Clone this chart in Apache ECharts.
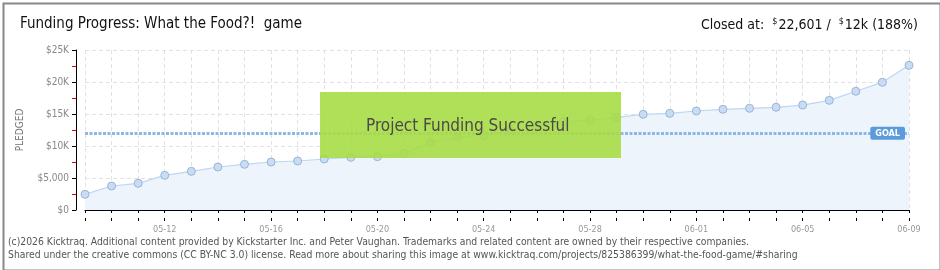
<!DOCTYPE html>
<html>
<head>
<meta charset="utf-8">
<script src="https://cdn.jsdelivr.net/npm/echarts@6/dist/echarts.min.js"></script>
<style>
html,body{margin:0;padding:0;background:#fff;}
#c{width:940px;height:270px;}
</style>
</head>
<body>
<div id="c"></div>
<script>
// ---- data ----
var dates = ['05-09','05-10','05-11','05-12','05-13','05-14','05-15','05-16','05-17','05-18','05-19','05-20','05-21','05-22','05-23','05-24','05-25','05-26','05-27','05-28','05-29','05-30','05-31','06-01','06-02','06-03','06-04','06-05','06-06','06-07','06-08','06-09'];
var pledged = [2450,3750,4170,5420,6040,6720,7140,7500,7660,7970,8230,8330,8850,10600,11400,11700,12500,13200,13800,14060,14480,14950,15100,15470,15730,15890,16050,16400,17130,18550,19950,22601];
var goal = 12000;
var yTickValues = [0,5000,10000,15000,20000,25000];
var yTickLabels = ['$0','$5,000','$10K','$15K','$20K','$25K'];
var titleText = 'Funding Progress: What the Food?!  game';
var closedTotal = '22,601';
var closedGoal = '12k';
var closedPct = '(188%)';
var bannerText = 'Project Funding Successful';
var footer1 = '(c)2026 Kicktraq. Additional content provided by Kickstarter Inc. and Peter Vaughan. Trademarks and related content are owned by their respective companies.';
var footer2 = 'Shared under the creative commons (CC BY-NC 3.0) license. Read more about sharing this image at www.kicktraq.com/projects/825386399/what-the-food-game/#sharing';

var FONT = 'DejaVu Sans Condensed';
var chart = echarts.init(document.getElementById('c'), null, {renderer:'canvas'});

var labelMap = {};
yTickValues.forEach(function(v,i){ labelMap[v] = yTickLabels[i]; });

var option = {
  animation: false,
  backgroundColor: '#fff',
  grid: {left: 85, right: 31, top: 50, bottom: 60},
  xAxis: [{
    type: 'category',
    data: dates,
    boundaryGap: false,
    offset: 11,
    axisLine: {lineStyle: {color: '#000', width: 1}},
    axisTick: {show: true, interval: 0, length: 3, lineStyle: {color: '#000'}},
    axisLabel: {
      interval: function(i){ return (i - 3) % 4 === 0; },
      color: '#999', fontSize: 9, fontFamily: FONT, margin: 4
    },
    splitLine: {show: true, interval: 0, lineStyle: {color: '#e2e2e2', type: [4,3]}}
  },{
    type: 'category',
    data: dates,
    boundaryGap: false,
    position: 'bottom',
    offset: 11,
    axisLine: {show: false},
    axisTick: {show: true, inside: true, interval: 0, length: 3, lineStyle: {color: '#000'}},
    axisLabel: {show: false},
    splitLine: {show: false}
  }],
  yAxis: {
    type: 'value',
    min: 0, max: 25000, interval: 5000,
    offset: 9,
    name: 'PLEDGED',
    nameLocation: 'middle',
    nameRotate: 90,
    nameGap: 51,
    nameTextStyle: {color: '#777', fontSize: 10, fontFamily: FONT},
    axisLine: {show: true, lineStyle: {color: '#000', width: 1}},
    axisTick: {show: true, length: 4, lineStyle: {color: '#000'}},
    minorTick: {show: true, splitNumber: 2, length: 4, lineStyle: {color: '#e00000'}},
    axisLabel: {
      color: '#888', fontSize: 10, fontFamily: FONT, margin: 7,
      formatter: function(v){ return labelMap[v] !== undefined ? labelMap[v] : ''; }
    },
    splitLine: {show: true, lineStyle: {color: '#e2e2e2', type: [4,3]}}
  },
  series: [{
    type: 'line',
    data: pledged,
    symbol: 'circle',
    symbolSize: 8,
    itemStyle: {color: '#c8ddf5', borderColor: '#9ab4d4', borderWidth: 1},
    lineStyle: {color: '#bcd7f3', width: 1.2},
    areaStyle: {color: '#eef4fc', opacity: 1},
    z: 3,
    markLine: {
      silent: true,
      symbol: ['none','none'],
      data: [{yAxis: goal}],
      lineStyle: {color: '#8cb8e6', width: 3, type: [3,1.5]},
      label: {
        show: true,
        position: 'insideEnd',
        formatter: 'GOAL',
        color: '#fff',
        fontFamily: FONT,
        fontSize: 9,
        fontWeight: 'bold',
        backgroundColor: '#5b9bdc',
        borderRadius: 2,
        padding: [2,5,2,5],
        distance: 4
      },
      z: 10
    }
  }],
  graphic: [
    {type: 'rect', left: 1, top: 1, z: 100, silent: true,
     shape: {width: 937, height: 267}, style: {fill: 'none', stroke: '#888', lineWidth: 2}},
    {type: 'text', left: 20, top: 17, style: {text: titleText, fill: '#111', font: '15px "' + FONT + '"'}},
    {type: 'text', right: 22, top: 17, style: {
      text: '{n|Closed at:  }{s|$}{n|' + closedTotal + ' /  }{s|$}{n|' + closedGoal + ' ' + closedPct + '}',
      rich: {
        n: {fontSize: 14, fontFamily: FONT, fill: '#111', verticalAlign: 'bottom'},
        s: {fontSize: 9, fontFamily: FONT, fill: '#111', verticalAlign: 'top', padding:[0,1,6,0]}
      }
    }},
    {type: 'rect', left: 320, top: 92, z: 50, shape: {width: 301, height: 66},
     style: {fill: 'rgba(167,220,70,0.9)'}},
    {type: 'text', left: 366, top: 118, z: 51, style: {
      text: bannerText, fill: '#4a4a4a', font: '17px "' + FONT + '"',
      textShadowColor: '#fff', textShadowOffsetX: 1, textShadowOffsetY: 1, textShadowBlur: 0
    }},
    {type: 'text', left: 8, top: 237, style: {text: footer1, fill: '#555', font: '10.3px "' + FONT + '"'}},
    {type: 'text', left: 8, top: 250, style: {text: footer2, fill: '#555', font: '10.3px "' + FONT + '"'}}
  ]
};
chart.setOption(option);
</script>
</body>
</html>
